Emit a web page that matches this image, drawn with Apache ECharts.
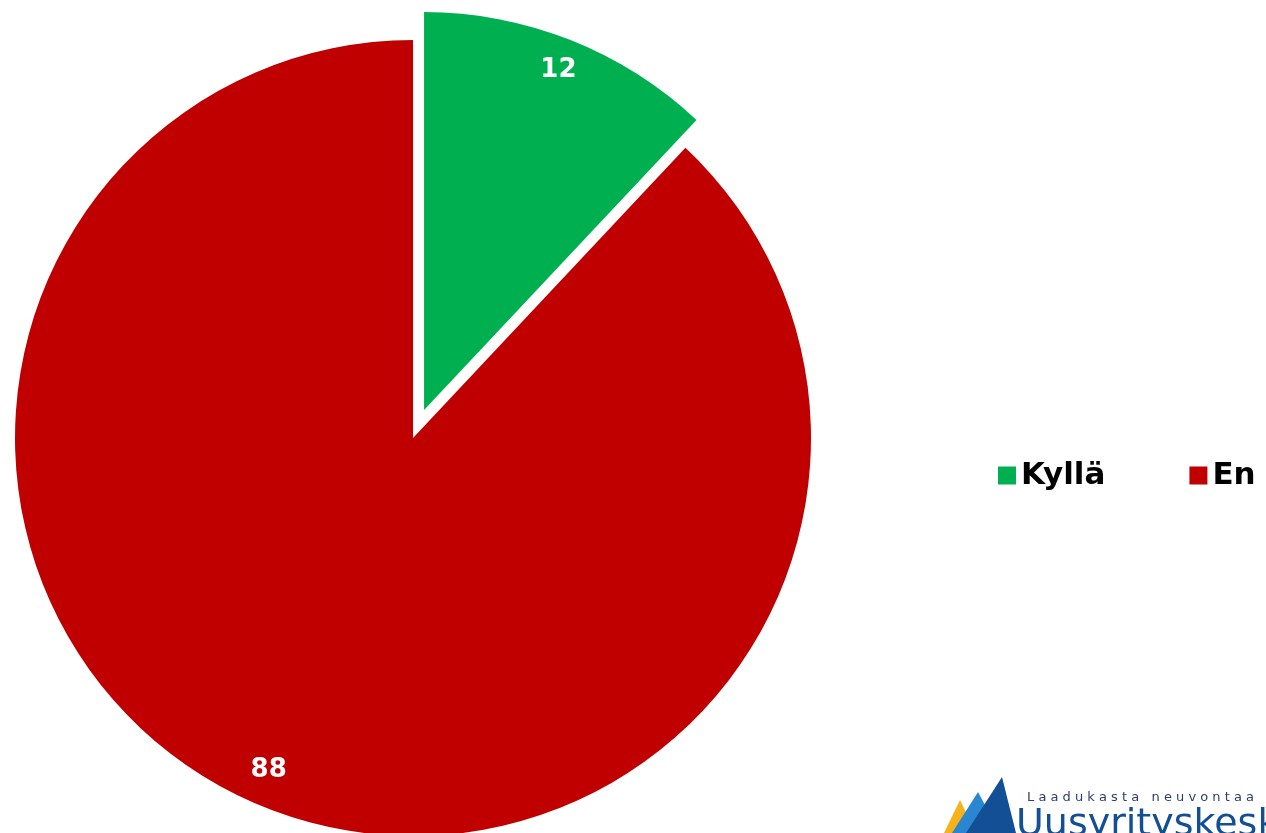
<!DOCTYPE html>
<html>
<head>
<meta charset="utf-8">
<script src="https://cdn.jsdelivr.net/npm/echarts@6/dist/echarts.min.js"></script>
<style>
  html, body { margin: 0; padding: 0; background: #fff; }
  #chart { width: 1266px; height: 833px; }
</style>
</head>
<body>
<div id="chart"></div>
<script>
const categories = ['Kyllä', 'En']
const values = [12, 88]
const colors = ['#00b050', '#c00000']
// small nudges so the value labels sit where the original puts them
const labelNudge = [[-3, 3], [-10, -7]]

const chart = echarts.init(document.getElementById('chart'))

const center = [413, 438]

chart.setOption({
  animation: false,
  legend: {
    data: categories,
    left: 993,
    top: 455,
    itemWidth: 18,
    itemHeight: 18,
    itemGap: 84,
    icon: 'rect',
    textStyle: { fontFamily: 'DejaVu Sans', fontWeight: 'bold', fontSize: 31, color: '#000' },
  },
  series: [
    {
      type: 'pie',
      center,
      radius: [0, 398],
      startAngle: 90,
      selectedMode: 'single',
      selectedOffset: 30,
      silent: true,
      label: { show: false },
      labelLine: { show: false },
      data: categories.map((name, i) => ({
        name,
        value: values[i],
        selected: i === 0,
        itemStyle: { color: colors[i] },
      })),
    },
    {
      // transparent ring only used to place the value labels near the rim
      type: 'pie',
      center,
      radius: [326, 398],
      startAngle: 90,
      selectedMode: 'single',
      selectedOffset: 30,
      silent: true,
      legendHoverLink: false,
      itemStyle: { color: 'transparent' },
      label: {
        show: true,
        position: 'inside',
        formatter: '{c}',
        color: '#fff',
        fontFamily: 'DejaVu Sans',
        fontWeight: 'bold',
        fontSize: 26,
      },
      labelLine: { show: false },
      data: categories.map((name, i) => ({
        name,
        value: values[i],
        selected: i === 0,
        itemStyle: { color: 'transparent' },
        label: { offset: labelNudge[i] },
      })),
    },
  ],
  graphic: [
    { type: 'polygon', shape: { points: [[944, 833], [960, 800], [976, 833]] }, style: { fill: '#f5b21b' } },
    { type: 'polygon', shape: { points: [[952, 833], [978, 792], [1000, 833]] }, style: { fill: '#2a86d1' } },
    { type: 'polygon', shape: { points: [[966, 833], [1002, 777], [1016, 833]] }, style: { fill: '#124f95' } },
    {
      type: 'text', left: 1027, top: 791,
      style: { text: 'L a a d u k a s t a   n e u v o n t a a', fontFamily: 'DejaVu Sans', fontSize: 13, fill: '#2b3f6c' },
    },
    {
      type: 'text', left: 1016, top: 806,
      style: { text: 'Uusyrityskeskus', fontFamily: 'DejaVu Sans', fontSize: 38, fill: '#124f95' },
    },
  ],
})
</script>
</body>
</html>
